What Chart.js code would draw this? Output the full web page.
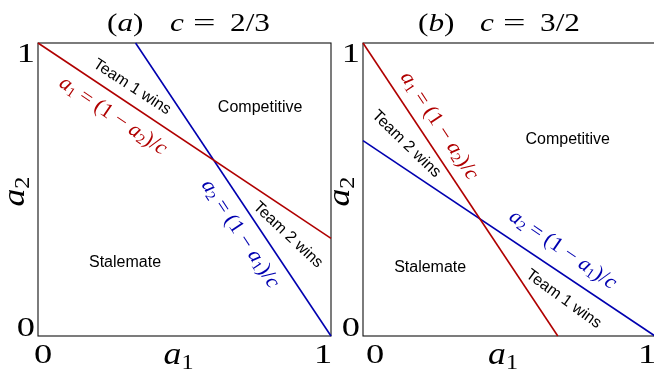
<!DOCTYPE html>
<html><head><meta charset="utf-8">
<script src="https://cdn.jsdelivr.net/npm/chart.js@4"></script>
<style>
html,body{margin:0;padding:0;background:#fff;overflow:hidden;width:654px;height:370px;}
#wrap{position:relative;width:654px;height:370px;overflow:hidden;background:#fff;}
canvas{position:absolute;top:0;}
</style></head><body>
<div id="wrap">
<canvas id="ca" width="340" height="370" style="left:0px"></canvas>
<canvas id="cb" width="340" height="370" style="left:330px"></canvas>
</div>
<script>
// ---- data ----
const axisTicks = [0, 1];
const tickLabels = ['0', '1'];
const cValues = ['2/3', '3/2'];
const panelLetters = ['a', 'b'];
// lines: [a1, a2] endpoints
const redLineA  = [[0, 1], [1, 0.333]];
const blueLineA = [[0.333, 1], [1, 0]];
const redLineB  = [[0, 1], [0.667, 0]];
const blueLineB = [[0, 0.667], [1, 0]];
const regionNames = ['Competitive', 'Stalemate', 'Team 1 wins', 'Team 2 wins'];

const RED = '#b00000', BLUE = '#0000b0';
const SERIF = '"Liberation Serif", "DejaVu Serif", serif';
const SANS = '"Liberation Sans", Arial, sans-serif';

function toPts(arr){ return arr.map(p => ({x:p[0], y:p[1]})); }

function fontFor(s, size, subRatio){
  if (s === 'i') return 'italic ' + size + 'px ' + SERIF;
  if (s === 's') return Math.round(size*subRatio) + 'px ' + SERIF;
  return size + 'px ' + SERIF;
}
// runs: [text, style]  style '' upright, 'i' italic, 's' subscript
function drawRuns(ctx, runs, x, y, size, align, sx, subRatio, subDrop){
  sx = sx || 1; subRatio = subRatio || 0.68; subDrop = subDrop == null ? 0.22 : subDrop;
  let w = 0;
  for (const [t, s] of runs){ ctx.font = fontFor(s, size, subRatio); w += ctx.measureText(t).width; }
  ctx.save();
  ctx.translate(x, y);
  ctx.scale(sx, 1);
  let cx = align === 'center' ? -w/2 : (align === 'right' ? -w : 0);
  ctx.textAlign = 'left';
  for (const [t, s] of runs){
    ctx.font = fontFor(s, size, subRatio);
    ctx.fillText(t, cx, s === 's' ? size*subDrop : 0);
    cx += ctx.measureText(t).width;
  }
  ctx.restore();
}
function eqRed(){ return [['a','i'],['1','s'],[' = (1 \u2212 ',''],['a','i'],['2','s'],[')/',''],['c','i']]; }
function eqBlue(){ return [['a','i'],['2','s'],[' = (1 \u2212 ',''],['a','i'],['1','s'],[')/',''],['c','i']]; }

const deco = {
  id: 'deco',
  beforeDatasetsDraw(chart, args, o){
    const ctx = chart.ctx, a = chart.chartArea;
    ctx.save();
    ctx.strokeStyle = '#111'; ctx.lineWidth = 1.1;
    ctx.strokeRect(a.left, a.top, a.right - a.left, a.bottom - a.top);
    ctx.restore();
  },
  afterDraw(chart, args, o){
    const ctx = chart.ctx, a = chart.chartArea;
    const xs = chart.scales.x, ys = chart.scales.y;
    ctx.save();
    ctx.fillStyle = '#000';
    ctx.textBaseline = 'alphabetic';
    // title
    drawRuns(ctx, [['(',''],[o.letter,'i'],[')','']], o.titleX, 31, 25, 'left', 1.25);
    drawRuns(ctx, [['c','i']], o.titleX + o.titleGap, 31, 25, 'left', 1.25);
    drawRuns(ctx, [['=','']], o.titleX + o.titleGap + 23, 31, 25, 'left', 1.6);
    drawRuns(ctx, [[o.cval,'']], o.titleX + o.titleGap + 60, 31, 25, 'left', 1.25);
    // tick labels
    axisTicks.forEach((v, i) => {
      const px = xs.getPixelForValue(v);
      drawRuns(ctx, [[tickLabels[i], '']], px + (i === 0 ? o.x0off : -8), 363, 27, 'center', 1.35);
      const py = ys.getPixelForValue(v);
      drawRuns(ctx, [[tickLabels[i], '']], a.left - 3, i === 0 ? py : py + 19, 27, 'right', 1.35);
    });
    // axis titles
    drawRuns(ctx, [['a','i'],['1','s']], (a.left + a.right)/2 - 6, 364, 31, 'center', 1.15, 0.68, 0.15);
    ctx.save();
    ctx.translate(a.left - 14, (a.top + a.bottom)/2 + 2);
    ctx.rotate(-Math.PI/2);
    drawRuns(ctx, [['a','i'],['2','s']], 0, 0, 31, 'center', 1.15, 0.68, 0.15);
    ctx.restore();
    // annotations
    for (const L of o.labels){
      const px = xs.getPixelForValue(L.x), py = ys.getPixelForValue(L.y);
      ctx.save();
      ctx.translate(px, py);
      ctx.rotate((L.angle || 0) * Math.PI/180);
      ctx.textBaseline = 'middle';
      if (L.eq){
        ctx.fillStyle = L.color;
        drawRuns(ctx, L.eq === 'red' ? eqRed() : eqBlue(), 0, 0, 21, 'center', 1.05);
      } else {
        ctx.fillStyle = '#000';
        ctx.font = '16px ' + SANS;
        ctx.textAlign = 'center';
        ctx.fillText(L.text, 0, 0);
      }
      ctx.restore();
    }
    ctx.restore();
  }
};

function makeChart(id, red, blue, pad, opts){
  return new Chart(document.getElementById(id), {
    type: 'scatter',
    data: { datasets: [
      { data: toPts(red), showLine: true, borderColor: RED, borderWidth: 1.6, pointRadius: 0, clip: false },
      { data: toPts(blue), showLine: true, borderColor: BLUE, borderWidth: 1.6, pointRadius: 0, clip: false }
    ]},
    options: {
      responsive: false, animation: false, devicePixelRatio: 1,
      layout: { padding: pad },
      plugins: { legend: {display:false}, tooltip: {enabled:false}, deco: opts },
      scales: {
        x: { type:'linear', min: axisTicks[0], max: axisTicks[1], display: false },
        y: { type:'linear', min: axisTicks[0], max: axisTicks[1], display: false }
      }
    },
    plugins: [deco]
  });
}

makeChart('ca', redLineA, blueLineA, {left:38, top:43, right:9, bottom:34}, {
  letter: panelLetters[0], cval: cValues[0], titleX: 107, titleGap: 63, x0off: 5,
  labels: [
    { text: regionNames[2], x: 0.321, y: 0.850, angle: 33 },
    { eq: 'red', color: RED, x: 0.256, y: 0.751, angle: 34 },
    { text: regionNames[0], x: 0.758, y: 0.778, angle: 0 },
    { eq: 'blue', color: BLUE, x: 0.690, y: 0.348, angle: 56.5 },
    { text: regionNames[3], x: 0.853, y: 0.345, angle: 43 },
    { text: regionNames[1], x: 0.297, y: 0.249, angle: 0 }
  ]
});
makeChart('cb', redLineB, blueLineB, {left:33, top:43, right:15, bottom:34}, {
  letter: panelLetters[1], cval: cValues[1], titleX: 88, titleGap: 62, x0off: 12,
  labels: [
    { eq: 'red', color: RED, x: 0.261, y: 0.717, angle: 56.5 },
    { text: regionNames[3], x: 0.148, y: 0.655, angle: 44 },
    { text: regionNames[0], x: 0.701, y: 0.669, angle: 0 },
    { eq: 'blue', color: BLUE, x: 0.684, y: 0.294, angle: 34.5 },
    { text: regionNames[1], x: 0.230, y: 0.235, angle: 0 },
    { text: regionNames[2], x: 0.687, y: 0.126, angle: 36 }
  ]
});
</script>
</body></html>
